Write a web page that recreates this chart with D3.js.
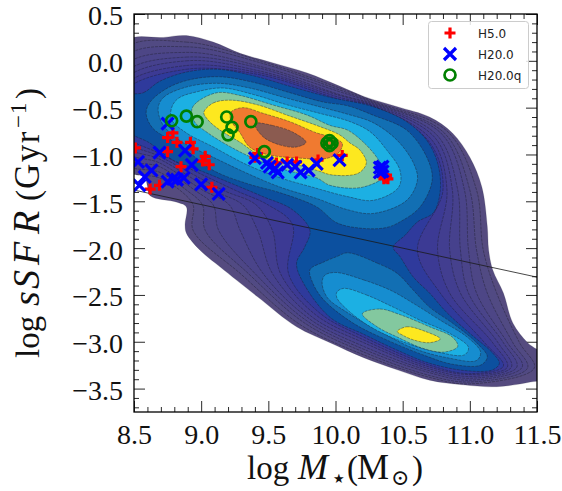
<!DOCTYPE html>
<html><head><meta charset="utf-8">
<script src="https://cdn.jsdelivr.net/npm/d3@7/dist/d3.min.js"></script>
<style>html,body{margin:0;padding:0;background:#fff}svg{display:block}</style></head>
<body><svg id="c" width="562" height="491"></svg>
<script>
const xTicks=[8.5,9.0,9.5,10.0,10.5,11.0,11.5];
const yTicks=[0.5,0,-0.5,-1,-1.5,-2,-2.5,-3,-3.5];
const seriesNames=["H5.0","H20.0","H20.0q"];
const ring0=[[8.43,.20],[8.72,.25],[8.89,.27],[9.09,.20],[9.29,.08],[9.53,-.02],[9.79,-.13],[10.03,-.27],[10.21,-.38],[10.46,-.49],[10.70,-.60],[10.87,-.77],[11.00,-1.03],[11.09,-1.35],[11.13,-1.77],[11.14,-2.02],[11.17,-2.23],[11.25,-2.48],[11.32,-2.80],[11.43,-3.01],[11.56,-3.16],[11.56,-3.39],[11.45,-3.43],[11.20,-3.48],[10.95,-3.46],[10.70,-3.41],[10.46,-3.30],[10.21,-3.17],[9.96,-3.01],[9.71,-2.84],[9.42,-2.52],[9.14,-2.20],[8.99,-2.02],[8.89,-1.84],[8.88,-1.75],[8.89,-1.56],[8.82,-1.51],[8.62,-1.44],[8.60,-1.34],[8.58,-1.23],[8.54,-1.19],[8.43,-1.18]];
const ring1=[[8.43,.12],[8.89,.20],[9.44,0],[10.03,-.29],[10.28,-.43],[10.83,-.75],[11.05,-1.38],[11.10,-2.02],[11.20,-2.48],[11.37,-3.01],[11.48,-3.28],[11.00,-3.45],[10.70,-3.38],[10.21,-3.14],[9.74,-2.82],[9.29,-2.27],[8.94,-1.81],[8.94,-1.54],[8.84,-1.38],[8.69,-1.25],[8.43,-1.15]];
const ring2=[[8.43,.03],[8.89,.15],[9.44,-.02],[10.03,-.31],[10.28,-.44],[10.81,-.77],[11.00,-1.38],[11.05,-2.02],[11.13,-2.48],[11.32,-3.01],[11.43,-3.28],[11.00,-3.43],[10.70,-3.36],[10.21,-3.11],[9.77,-2.80],[9.35,-2.27],[9.03,-1.81],[9.01,-1.54],[8.89,-1.38],[8.69,-1.19],[8.43,-1.09]];
const ring3=[[8.43,-.06],[8.89,.09],[9.44,-.06],[10.03,-.33],[10.28,-.45],[10.79,-.78],[10.96,-1.38],[10.99,-2.02],[11.05,-2.48],[11.28,-3.01],[11.39,-3.27],[11.00,-3.41],[10.70,-3.33],[10.21,-3.08],[9.79,-2.78],[9.40,-2.27],[9.13,-1.81],[9.09,-1.54],[8.95,-1.38],[8.69,-1.13],[8.43,-1.03]];
const ring4=[[8.43,-.14],[8.89,.04],[9.44,-.08],[10.03,-.36],[10.28,-.46],[10.76,-.80],[10.91,-1.38],[10.93,-2.02],[10.99,-2.48],[11.25,-3.01],[11.35,-3.27],[11.00,-3.39],[10.70,-3.31],[10.21,-3.05],[9.81,-2.76],[9.46,-2.27],[9.29,-1.81],[9.21,-1.54],[9.01,-1.38],[8.69,-1.09],[8.43,-.96]];
const ring5=[[8.43,-.21],[8.89,0],[9.44,-.11],[10.03,-.37],[10.28,-.47],[10.74,-.82],[10.87,-1.38],[10.85,-2.02],[10.93,-2.48],[11.21,-3.01],[11.31,-3.27],[11.00,-3.37],[10.70,-3.29],[10.21,-3.01],[9.83,-2.74],[9.53,-2.27],[9.42,-1.81],[9.31,-1.54],[9.08,-1.38],[8.69,-1.05],[8.43,-.90]];
const ring6=[[8.43,-.27],[8.89,-.05],[9.44,-.13],[10.03,-.39],[10.28,-.48],[10.72,-.85],[10.83,-1.38],[10.76,-2.02],[10.85,-2.48],[11.17,-3.01],[11.28,-3.27],[11.00,-3.35],[10.70,-3.27],[10.21,-2.98],[9.85,-2.71],[9.59,-2.27],[9.53,-1.81],[9.41,-1.54],[9.16,-1.38],[8.69,-1.02],[8.43,-.84]];
const ring7=[[8.43,-.33],[8.89,-.09],[9.44,-.15],[10.03,-.41],[10.28,-.485],[10.70,-.87],[10.80,-1.38],[10.61,-2.02],[10.78,-2.48],[11.11,-3.01],[11.25,-3.26],[11.00,-3.34],[10.70,-3.25],[10.21,-2.95],[9.88,-2.69],[9.65,-2.27],[9.68,-1.75],[9.50,-1.54],[9.25,-1.38],[8.69,-.99],[8.43,-.78]];
const ring8=[[8.43,-.38],[8.57,-.34],[8.69,-.22],[8.89,-.12],[9.12,-.09],[9.39,-.16],[9.68,-.28],[9.96,-.39],[10.28,-.49],[10.53,-.65],[10.68,-.85],[10.76,-1.09],[10.78,-1.38],[10.73,-1.62],[10.61,-1.72],[10.52,-1.86],[10.43,-1.99],[10.48,-2.09],[10.58,-2.31],[10.70,-2.48],[10.83,-2.69],[11.00,-2.91],[11.17,-3.12],[11.22,-3.23],[11.17,-3.30],[10.98,-3.31],[10.70,-3.23],[10.46,-3.09],[10.21,-2.92],[9.96,-2.74],[9.76,-2.37],[9.71,-2.16],[9.77,-1.99],[9.81,-1.81],[9.68,-1.59],[9.46,-1.45],[9.16,-1.27],[8.99,-1.17],[8.79,-1.06],[8.62,-.88],[8.43,-.72]];
const ring9a=[[8.59,-.56],[8.62,-.44],[8.75,-.29],[8.92,-.20],[9.14,-.17],[9.39,-.23],[9.66,-.34],[9.91,-.44],[10.09,-.48],[10.28,-.58],[10.53,-.74],[10.68,-1.03],[10.72,-1.27],[10.63,-1.56],[10.48,-1.72],[10.38,-1.78],[10.21,-1.79],[10.01,-1.73],[9.86,-1.56],[9.59,-1.41],[9.34,-1.31],[9.09,-1.17],[8.84,-.90],[8.64,-.72]];
const ring9b=[[10.09,-2.05],[10.31,-2.16],[10.46,-2.27],[10.58,-2.45],[10.70,-2.63],[10.87,-2.80],[11.05,-3.01],[11.13,-3.16],[11.08,-3.25],[10.87,-3.24],[10.67,-3.15],[10.38,-2.98],[10.13,-2.80],[9.91,-2.55],[9.83,-2.37],[9.81,-2.23],[9.91,-2.15],[10.01,-2.09]];
const ring10a=[[8.68,-.50],[8.72,-.39],[8.89,-.28],[9.12,-.24],[9.36,-.29],[9.64,-.40],[9.88,-.49],[10.09,-.57],[10.28,-.66],[10.46,-.85],[10.58,-1.09],[10.61,-1.27],[10.53,-1.49],[10.28,-1.63],[10.09,-1.59],[9.86,-1.47],[9.59,-1.35],[9.34,-1.20],[9.09,-1.03],[8.84,-.85],[8.71,-.67]];
const ring10b=[[10.00,-2.26],[10.21,-2.34],[10.41,-2.45],[10.58,-2.59],[10.78,-2.77],[10.98,-2.95],[11.08,-3.11],[11.05,-3.20],[10.83,-3.17],[10.58,-3.07],[10.33,-2.89],[10.09,-2.69],[9.94,-2.53],[9.90,-2.37],[9.92,-2.29]];
const ring11a=[[8.78,-.50],[8.83,-.40],[8.97,-.33],[9.16,-.29],[9.39,-.36],[9.64,-.47],[9.88,-.56],[10.11,-.65],[10.26,-.76],[10.38,-.95],[10.48,-1.17],[10.47,-1.35],[10.28,-1.49],[10.09,-1.45],[9.83,-1.35],[9.59,-1.25],[9.34,-1.11],[9.09,-.92],[8.89,-.77],[8.78,-.63]];
const ring11b=[[10.06,-2.43],[10.23,-2.50],[10.43,-2.63],[10.63,-2.77],[10.85,-2.91],[10.99,-3.06],[10.96,-3.14],[10.76,-3.11],[10.50,-3.00],[10.26,-2.84],[10.09,-2.66],[10.01,-2.53],[10.01,-2.47]];
const ring12a=[[8.93,-.52],[8.97,-.44],[9.12,-.34],[9.29,-.37],[9.53,-.47],[9.79,-.58],[9.96,-.69],[10.09,-.74],[10.23,-.90],[10.33,-1.08],[10.37,-1.22],[10.20,-1.35],[9.96,-1.33],[9.86,-1.25],[9.64,-1.17],[9.42,-1.06],[9.22,-.92],[9.05,-.77],[8.95,-.65]];
const ring12b=[[10.20,-2.70],[10.33,-2.65],[10.48,-2.71],[10.70,-2.84],[10.87,-2.95],[10.91,-3.05],[10.81,-3.11],[10.65,-3.07],[10.46,-2.95],[10.31,-2.84]];
const ring13a=[[9.02,-.55],[9.09,-.45],[9.22,-.42],[9.42,-.47],[9.64,-.58],[9.86,-.69],[10.03,-.79],[10.11,-.88],[10.18,-.95],[10.23,-1.09],[10.17,-1.20],[9.98,-1.22],[9.86,-1.17],[9.66,-1.09],[9.46,-1.03],[9.29,-.87],[9.14,-.74],[9.05,-.63]];
const ring13b=[[10.46,-2.89],[10.53,-2.84],[10.67,-2.89],[10.78,-2.97],[10.70,-3.01],[10.58,-2.98],[10.50,-2.93]];
const ring14=[[9.22,-.63],[9.22,-.55],[9.31,-.50],[9.46,-.56],[9.66,-.65],[9.86,-.77],[9.96,-.81],[10.05,-.88],[10.03,-.97],[9.94,-1.04],[9.74,-1.04],[9.49,-1.00],[9.36,-.92],[9.29,-.77]];
const ring15=[[9.40,-.67],[9.53,-.69],[9.68,-.76],[9.78,-.87],[9.71,-.92],[9.59,-.90],[9.46,-.81]];
const levels=[[ring0],[ring1],[ring2],[ring3],[ring4],[ring5],[ring6],[ring7],[ring8],[ring9a,ring9b],[ring10a,ring10b],[ring11a,ring11b],[ring12a,ring12b],[ring13a,ring13b],[ring14],[ring15]];
const levelColors=['#554b7f','#514a83','#4d4686','#4a448a','#46418d','#423e90','#3c3a94','#2f3a9c','#0c509f','#126fb3','#168dd0','#1cb0e3','#83c89f','#fde81f','#f07a30','#8b5b50'];
const fitLineX=[8.5,11.5];
const fitLineY=[-1.38,-2.31];
const h5=[[8.51,-.93],[8.75,-.82],[8.79,-.77],[8.82,-.87],[8.92,-.87],[8.94,-.94],[8.75,-.97],[9.03,-1.02],[9.01,-1.07],[9.06,-1.11],[8.85,-1.13],[8.62,-1.37],[8.69,-1.33],[9.08,-1.35],[9.42,-.99],[9.40,-1.03],[9.56,-1.09],[9.64,-1.08],[9.71,-1.08],[9.87,-1.06],[10.05,-1.01],[10.37,-1.24],[10.38,-1.25],[10.36,-1.23],[10.39,-1.26],[10.36,-1.26],[10.38,-1.22]];
const h20=[[8.75,-.67],[8.69,-.98],[8.88,-.96],[8.53,-1.08],[8.63,-1.17],[8.58,-1.24],[8.54,-1.33],[8.93,-1.11],[8.75,-1.29],[8.79,-1.26],[8.82,-1.27],[8.87,-1.25],[9.0,-1.32],[9.13,-1.42],[9.40,-1.04],[9.49,-1.09],[9.51,-1.13],[9.55,-1.15],[9.57,-1.19],[9.64,-1.11],[9.70,-1.13],[9.74,-1.19],[9.80,-1.17],[9.86,-1.10],[10.03,-1.06],[10.33,-1.14],[10.35,-1.18],[10.33,-1.19],[10.35,-1.13]];
const h20q=[[8.78,-.64],[8.89,-.59],[8.97,-.65],[9.19,-.60],[9.23,-.71],[9.20,-.79],[9.37,-.65],[9.47,-.97],[9.936,-.878],[9.974,-.878],[9.955,-.851],[9.955,-.905]];

const L=134,R=537,T=14,B=412;
const x=d3.scaleLinear().domain([8.5,11.5]).range([L,R]);
const y=d3.scaleLinear().domain([0.5,-3.75]).range([T,B]);
const svg=d3.select('#c');
const SERIF='"Liberation Serif","DejaVu Serif",serif';
const fmt=d3.format('.1f');
svg.append('defs').append('clipPath').attr('id','plot').append('rect').attr('x',L).attr('y',T).attr('width',R-L).attr('height',B-T);
const minorX=d3.range(85,116).map(v=>v/10).filter(v=>!xTicks.includes(v));
const minorY=d3.range(5,-38,-1).map(v=>v/10).filter(v=>!yTicks.includes(v));
function axisG(a,tx,ty){const g=svg.append('g').attr('transform',`translate(${tx},${ty})`).call(a);
  g.select('.domain').remove();g.selectAll('line').attr('stroke','#111').attr('stroke-width',.9);
  g.selectAll('text').attr('font-family',SERIF).attr('font-size',28).attr('fill','#111');return g;}
axisG(d3.axisBottom(x).tickValues(xTicks).tickSize(-11).tickPadding(12).tickFormat(fmt),0,B);
axisG(d3.axisLeft(y).tickValues(yTicks).tickSize(-11).tickPadding(11).tickFormat(fmt),L,0).selectAll('text').attr('dy','0.39em');
axisG(d3.axisTop(x).tickValues(xTicks).tickSize(-11).tickFormat(''),0,T);
axisG(d3.axisRight(y).tickValues(yTicks).tickSize(-11).tickFormat(''),R,0);
axisG(d3.axisBottom(x).tickValues(minorX).tickSize(-5).tickFormat(''),0,B);
axisG(d3.axisLeft(y).tickValues(minorY).tickSize(-5).tickFormat(''),L,0);
axisG(d3.axisTop(x).tickValues(minorX).tickSize(-5).tickFormat(''),0,T);
axisG(d3.axisRight(y).tickValues(minorY).tickSize(-5).tickFormat(''),R,0);

const plot=svg.append('g').attr('clip-path','url(#plot)');
const contour=d3.line().x(d=>x(d[0])).y(d=>y(d[1])).curve(d3.curveCatmullRomClosed.alpha(.5));
levels.forEach((polys,i)=>{
  plot.append('g').selectAll('path').data(polys).join('path').attr('d',contour)
    .attr('fill',levelColors[i]).attr('stroke','#1c1c2c').attr('stroke-width',.7)
    .attr('stroke-opacity',i===0?.25:.6).attr('stroke-dasharray',i===0?null:'3 1');
});
plot.append('line').attr('x1',x(fitLineX[0])).attr('y1',y(fitLineY[0])).attr('x2',x(fitLineX[1])).attr('y2',y(fitLineY[1]))
  .attr('stroke','#1a1a1a').attr('stroke-width',1).attr('stroke-opacity',.8);
const plus='M-5.5,0H5.5M0,-5.5V5.5', cross='M-6,-6L6,6M-6,6L6,-6';
function marks(data,d,c){plot.append('g').selectAll('path').data(data).join('path').attr('d',d)
  .attr('transform',p=>`translate(${x(p[0])},${y(p[1])})`).attr('fill','none').attr('stroke',c).attr('stroke-width',3.2);}
marks(h5,plus,'#ff0000');marks(h20,cross,'#0000ff');
plot.append('g').selectAll('circle').data(h20q).join('circle').attr('cx',p=>x(p[0])).attr('cy',p=>y(p[1])).attr('r',5.5)
  .attr('fill','none').attr('stroke','#008000').attr('stroke-width',2.7);

svg.append('rect').attr('x',L).attr('y',T).attr('width',R-L).attr('height',B-T).attr('fill','none').attr('stroke','#000').attr('stroke-width',1.3);

const leg=svg.append('g');
leg.append('rect').attr('x',428.5).attr('y',21.5).attr('width',100).attr('height',67).attr('rx',3).attr('fill','#fff').attr('fill-opacity',.85).attr('stroke','#ccc');
const legY=[33,54,75];
seriesNames.forEach((n,i)=>{
  if(i<2) leg.append('path').attr('d',i?cross:plus).attr('transform',`translate(450,${legY[i]})`).attr('fill','none').attr('stroke',i?'#0000ff':'#ff0000').attr('stroke-width',3.2);
  else leg.append('circle').attr('cx',450).attr('cy',legY[i]).attr('r',5.5).attr('fill','none').attr('stroke','#008000').attr('stroke-width',2.7);
  leg.append('text').attr('x',478).attr('y',legY[i]+4.5).attr('font-family','"DejaVu Sans",sans-serif').attr('font-size',12).attr('fill','#222').text(n);
});
const xl=svg.append('text').attr('y',479).attr('font-family',SERIF).attr('font-size',33).attr('fill','#111');
xl.append('tspan').attr('x',247).text('log');
xl.append('tspan').attr('x',298).attr('font-style','italic').attr('font-size',36).text('M');
xl.append('tspan').attr('x',333).attr('font-size',13).attr('dy',4).text('★');
xl.append('tspan').attr('x',347).attr('dy',-4).text('(');
xl.append('tspan').attr('x',357).attr('font-size',36).text('M');
xl.append('tspan').attr('x',391).attr('font-size',22).attr('dy',6).text('⊙');
xl.append('tspan').attr('x',412).attr('dy',-6).text(')');
const yl=svg.append('text').attr('transform','translate(39,362) rotate(-90)').attr('font-family',SERIF).attr('font-size',33).attr('fill','#111');
yl.append('tspan').attr('x',4).text('log');
yl.append('tspan').attr('x',56).attr('font-style','italic').attr('font-size',38).text('s');
yl.append('tspan').attr('x',73).attr('font-style','italic').attr('font-size',38).text('S');
yl.append('tspan').attr('x',97).attr('font-style','italic').attr('font-size',38).text('F');
yl.append('tspan').attr('x',128).attr('font-style','italic').attr('font-size',38).text('R');
yl.append('tspan').attr('x',161).text('(');
yl.append('tspan').attr('x',173).attr('font-size',35).attr('letter-spacing',1.5).text('Gyr');
yl.append('tspan').attr('x',234).attr('font-size',23).attr('dy',-13).attr('letter-spacing',1).text('−1');
yl.append('tspan').attr('x',263).attr('dy',13).text(')');
</script></body></html>
